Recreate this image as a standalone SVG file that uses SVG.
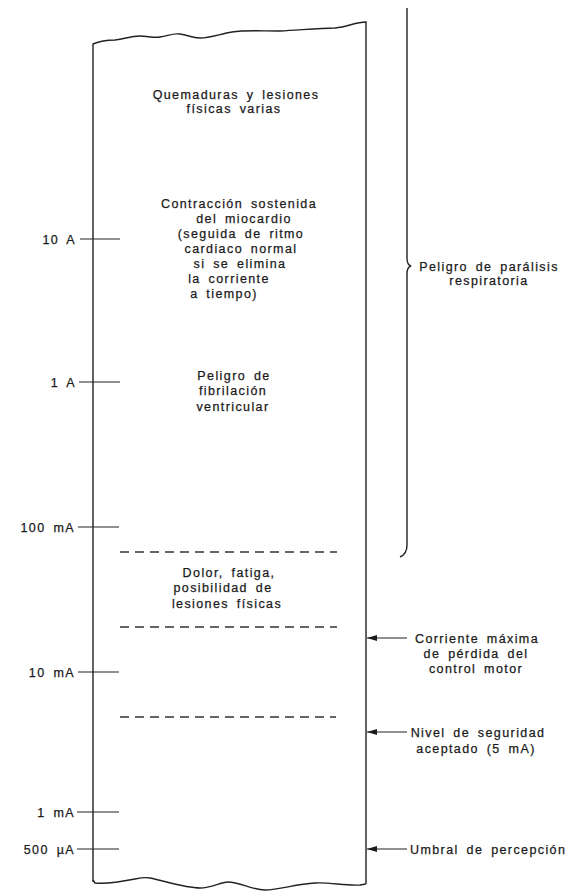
<svg xmlns="http://www.w3.org/2000/svg" width="573" height="893" viewBox="0 0 573 893">
<defs>
<marker id="ah" viewBox="0 0 10 6" refX="10" refY="3" markerWidth="10" markerHeight="6" markerUnits="userSpaceOnUse" orient="auto">
<path d="M0,0 L10,3 L0,6 Z" fill="#1a1a1a"/>
</marker>
</defs>
<style>
text{font-family:"Liberation Sans",Arial,sans-serif;font-size:12.5px;fill:#1a1a1a;stroke:#1a1a1a;stroke-width:0.25px;letter-spacing:1.4px;word-spacing:3px}
.c{text-anchor:middle}
.e{text-anchor:end}
.edge{fill:none;stroke:#222;stroke-width:1.4}
.tick{stroke:#222;stroke-width:1.1}
.dash{stroke:#333;stroke-width:1.3;stroke-dasharray:9 6}
.arr{stroke:#222;stroke-width:1.1;fill:none;marker-end:url(#ah)}
</style>
<rect width="573" height="893" fill="#fff"/>

<g id="box">
<path class="edge" d="M93,882 L93,44 C100,41 108,40 115,40 C125,39 130,36 140,36 C148,36 152,38 160,37 C168,36 172,33 180,34 C188,35 192,38 200,38 C210,38 220,34 232,32 C245,30 260,31 280,31 C300,30 320,28 335,28 C348,27 355,22 366,22 L366,884"/>
<path class="edge" d="M93,880 L95,883 C105,884 120,882 135,879 C140,878 145,877 150,878 C165,881 185,888 200,888 C212,888 220,882 228,882 C240,882 252,890 265,890 C280,890 295,884 315,883 C330,882 345,886 360,885 L366,884"/>
</g>

<g id="scale">
<line class="tick" x1="80" y1="239" x2="120" y2="239"/>
<text class="e" x="76" y="243.5">10 A</text>
<line class="tick" x1="79" y1="382" x2="120" y2="382"/>
<text class="e" x="76" y="386.5">1 A</text>
<line class="tick" x1="78" y1="527" x2="119" y2="527"/>
<text class="e" x="75" y="531.5">100 mA</text>
<line class="tick" x1="78" y1="672" x2="119" y2="672"/>
<text class="e" x="75" y="676.5">10 mA</text>
<line class="tick" x1="77" y1="812" x2="119" y2="812"/>
<text class="e" x="75" y="816.5">1 mA</text>
<line class="tick" x1="77" y1="849" x2="119" y2="849"/>
<text class="e" x="75" y="853.5">500 µA</text>
</g>

<g id="thresholds">
<line class="dash" x1="120" y1="552" x2="337" y2="552"/>
<line class="dash" x1="120" y1="627" x2="337" y2="627"/>
<line class="dash" x1="120" y1="717" x2="336" y2="717"/>
</g>

<g id="zone-quemaduras">
<text class="c" x="236" y="99">Quemaduras y lesiones</text>
<text class="c" x="234" y="113">físicas varias</text>
</g>

<g id="zone-contraccion">
<text class="c" x="239" y="207.5">Contracción sostenida</text>
<text class="c" x="244" y="222.5">del miocardio</text>
<text class="c" x="241" y="237.5">(seguida de ritmo</text>
<text class="c" x="241" y="252.5">cardiaco normal</text>
<text class="c" x="240" y="267.5">si se elimina</text>
<text class="c" x="229" y="282.5">la corriente</text>
<text class="c" x="224" y="298">a tiempo)</text>
</g>

<g id="zone-fibrilacion">
<text class="c" x="234" y="379.5">Peligro de</text>
<text class="c" x="233" y="395">fibrilación</text>
<text class="c" x="233" y="410.5">ventricular</text>
</g>

<g id="zone-dolor">
<text class="c" x="229" y="576.5">Dolor, fatiga,</text>
<text class="c" x="223" y="592">posibilidad de</text>
<text class="c" x="227" y="607.5">lesiones físicas</text>
</g>

<g id="bracket-paralisis">
<path class="edge" d="M407,8 L407,258 Q407,265 411,266 Q407,267 407,274 L407,545 Q407,554 400,557"/>
<text class="c" x="489" y="270.5">Peligro de parálisis</text>
<text class="c" x="489" y="285">respiratoria</text>
</g>

<g id="note-control-motor">
<text class="c" x="477" y="642.5">Corriente máxima</text>
<text class="c" x="476" y="657.5">de pérdida del</text>
<text class="c" x="476" y="672.5">control motor</text>
</g>

<g id="note-seguridad">
<text class="c" x="478" y="736.5">Nivel de seguridad</text>
<text class="c" x="476" y="752.5">aceptado (5 mA)</text>
</g>

<g id="note-umbral">
<text x="410" y="853.5">Umbral de percepción</text>
</g>

<g id="connectors">
<line class="arr" x1="407" y1="638" x2="367" y2="638"/>
<line class="arr" x1="407" y1="732" x2="367" y2="732"/>
<line class="arr" x1="407" y1="849" x2="367" y2="849"/>
</g>
</svg>
